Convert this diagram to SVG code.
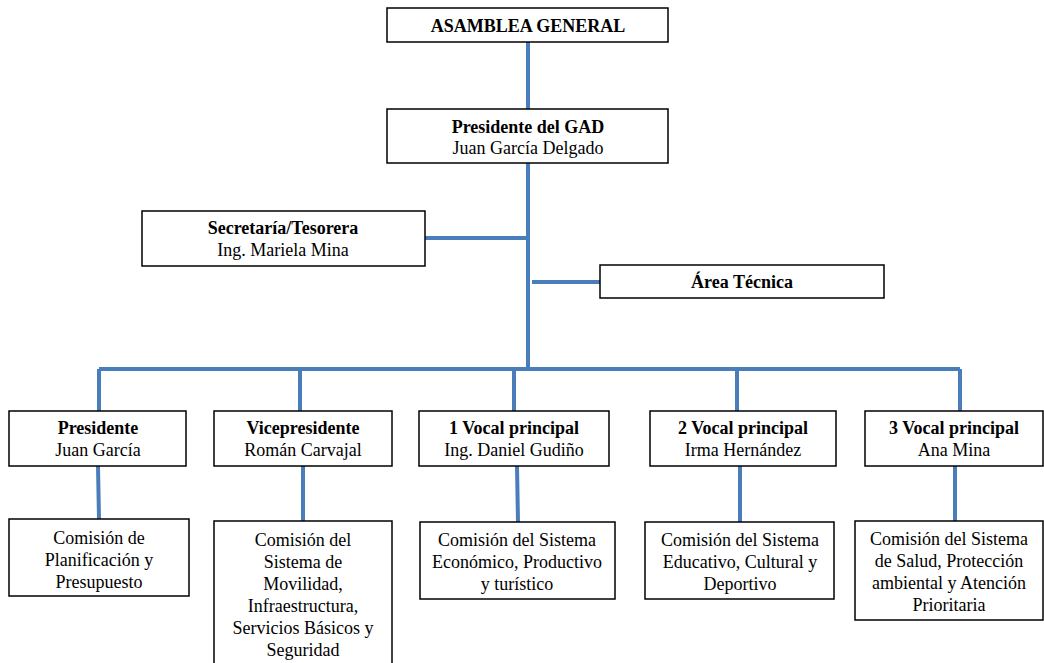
<svg xmlns="http://www.w3.org/2000/svg" width="1044" height="663" viewBox="0 0 1044 663">
<style>
.box{fill:#fff;stroke:#000;stroke-width:1.5}
.c{stroke:#4a7ebb;stroke-width:4;fill:none}
text{font-family:"Liberation Serif","Times New Roman",serif;font-size:18px;fill:#000;text-anchor:middle}
.b{font-weight:bold}
</style>
<rect width="1044" height="663" fill="#fff"/>
<g id="connectors">
<path class="c" d="M528 42V109M528 163V369M425 238H528M532 282H600"/>
<path class="c" d="M99 369H960M99 369V411M300 369V411M514 369V411M737 369V411M960 369V411"/>
<path class="c" d="M98 466L99 519M303 466V521M517 466L518 522M740 466V522M955 466V521"/>
</g>
<g id="asamblea"><rect class="box" x="387" y="8" width="281" height="34"/><text class="b" x="528" y="32">ASAMBLEA GENERAL</text></g>
<g id="presidente-gad"><rect class="box" x="387" y="109" width="281" height="54"/><text class="b" x="528" y="133">Presidente del GAD</text><text x="528" y="154">Juan García Delgado</text></g>
<g id="secretaria"><rect class="box" x="142" y="211" width="283" height="55"/><text class="b" x="283" y="234">Secretaría/Tesorera</text><text x="283" y="256">Ing. Mariela  Mina</text></g>
<g id="area-tecnica"><rect class="box" x="600" y="265" width="284" height="33"/><text class="b" x="742" y="288">Área Técnica</text></g>
<g id="presidente"><rect class="box" x="9" y="411" width="177" height="55"/><text class="b" x="98" y="434">Presidente</text><text x="98" y="456">Juan García</text></g>
<g id="vicepresidente"><rect class="box" x="214" y="411" width="178" height="55"/><text class="b" x="303" y="434">Vicepresidente</text><text x="303" y="456">Román Carvajal</text></g>
<g id="vocal1"><rect class="box" x="419" y="411" width="190" height="55"/><text class="b" x="514" y="434">1 Vocal principal</text><text x="514" y="456">Ing. Daniel Gudiño</text></g>
<g id="vocal2"><rect class="box" x="650" y="411" width="186" height="55"/><text class="b" x="743" y="434">2 Vocal principal</text><text x="743" y="456">Irma Hernández</text></g>
<g id="vocal3"><rect class="box" x="865" y="411" width="178" height="55"/><text class="b" x="954" y="434">3 Vocal principal</text><text x="954" y="456">Ana Mina</text></g>
<g id="com-planificacion"><rect class="box" x="9" y="519" width="180" height="77"/><text x="99" y="544">Comisión de</text><text x="99" y="566">Planificación  y</text><text x="99" y="588">Presupuesto</text></g>
<g id="com-movilidad"><rect class="box" x="214" y="521" width="178" height="150"/><text x="303" y="546">Comisión del</text><text x="303" y="568">Sistema de</text><text x="303" y="590">Movilidad,</text><text x="303" y="612">Infraestructura,</text><text x="303" y="634">Servicios Básicos y</text><text x="303" y="656">Seguridad</text></g>
<g id="com-economico"><rect class="box" x="420" y="522" width="195" height="77"/><text x="517" y="546">Comisión del Sistema</text><text x="517" y="568">Económico, Productivo</text><text x="517" y="590">y turístico</text></g>
<g id="com-educativo"><rect class="box" x="645" y="522" width="189" height="77"/><text x="740" y="546">Comisión del Sistema</text><text x="740" y="568">Educativo, Cultural y</text><text x="740" y="590">Deportivo</text></g>
<g id="com-salud"><rect class="box" x="855" y="521" width="188" height="99"/><text x="949" y="545">Comisión del Sistema</text><text x="949" y="567">de Salud, Protección</text><text x="949" y="589">ambiental y Atención</text><text x="949" y="611">Prioritaria</text></g>
</svg>
